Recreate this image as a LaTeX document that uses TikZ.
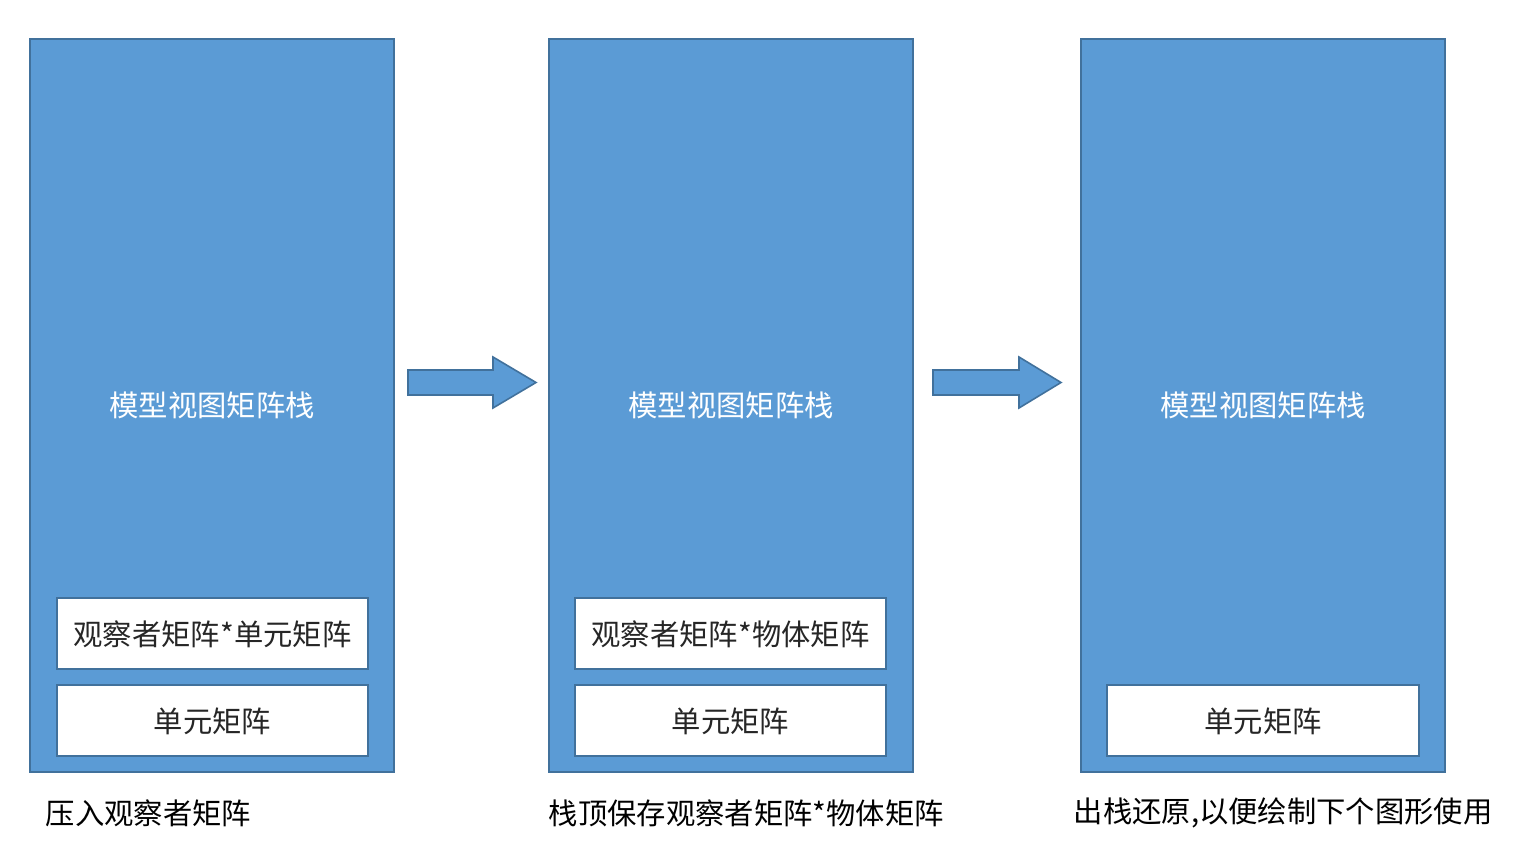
\documentclass[tikz,border=0pt]{standalone}
\usepackage{fontspec}
\newfontfamily\cjk{Noto Sans CJK SC}
\definecolor{panelfill}{HTML}{5B9BD5}
\definecolor{panelline}{HTML}{41719C}
\definecolor{txt}{HTML}{262626}
\begin{document}
\begin{tikzpicture}[x=0.75pt,y=-0.75pt,
  panel/.style={draw=panelline,line width=1.2pt,fill=panelfill},
  cell/.style={draw=panelline,line width=1.2pt,fill=white},
  arrowshape/.style={draw=panelline,line width=1.2pt,fill=panelfill,line join=miter},
  title/.style={font=\cjk\fontsize{22}{25}\selectfont,text=white},
  celltext/.style={font=\cjk\fontsize{22}{25}\selectfont,text=txt},
  caption/.style={font=\cjk\fontsize{22}{25}\selectfont,text=black,anchor=west}]
\useasboundingbox (0,0) rectangle (1538,848);
% panels
\draw[panel] (30,39) rectangle (394,772);
\draw[panel] (549,39) rectangle (913,772);
\draw[panel] (1081,39) rectangle (1445,772);
\node[title] (t1) at (212,405) {模型视图矩阵栈};
\node[title] (t2) at (731,405) {模型视图矩阵栈};
\node[title] (t3) at (1263,405) {模型视图矩阵栈};
% cells
\draw[cell] (57,598) rectangle (368,669);
\node[celltext] (c1a) at (212.5,634) {观察者矩阵*单元矩阵};
\draw[cell] (57,685) rectangle (368,756);
\node[celltext] (c1b) at (212.5,721) {单元矩阵};
\draw[cell] (575,598) rectangle (886,669);
\node[celltext] (c2a) at (730.5,634) {观察者矩阵*物体矩阵};
\draw[cell] (575,685) rectangle (886,756);
\node[celltext] (c2b) at (730.5,721) {单元矩阵};
\draw[cell] (1107,685) rectangle (1419,756);
\node[celltext] (c3b) at (1263,721) {单元矩阵};
% arrows
\draw[arrowshape] (408,370) -- (493,370) -- (493,357) -- (536,382.5) -- (493,408) -- (493,395) -- (408,395) -- cycle;
\draw[arrowshape] (933,370) -- (1019,370) -- (1019,357) -- (1061,382.5) -- (1019,408) -- (1019,395) -- (933,395) -- cycle;
% captions
\node[caption] (cap1) at (41,813) {压入观察者矩阵};
\node[caption] (cap2) at (544,813) {栈顶保存观察者矩阵*物体矩阵};
\node[caption] (cap3) at (1069,813) {出栈还原,以便绘制下个图形使用};
\end{tikzpicture}
\end{document}
